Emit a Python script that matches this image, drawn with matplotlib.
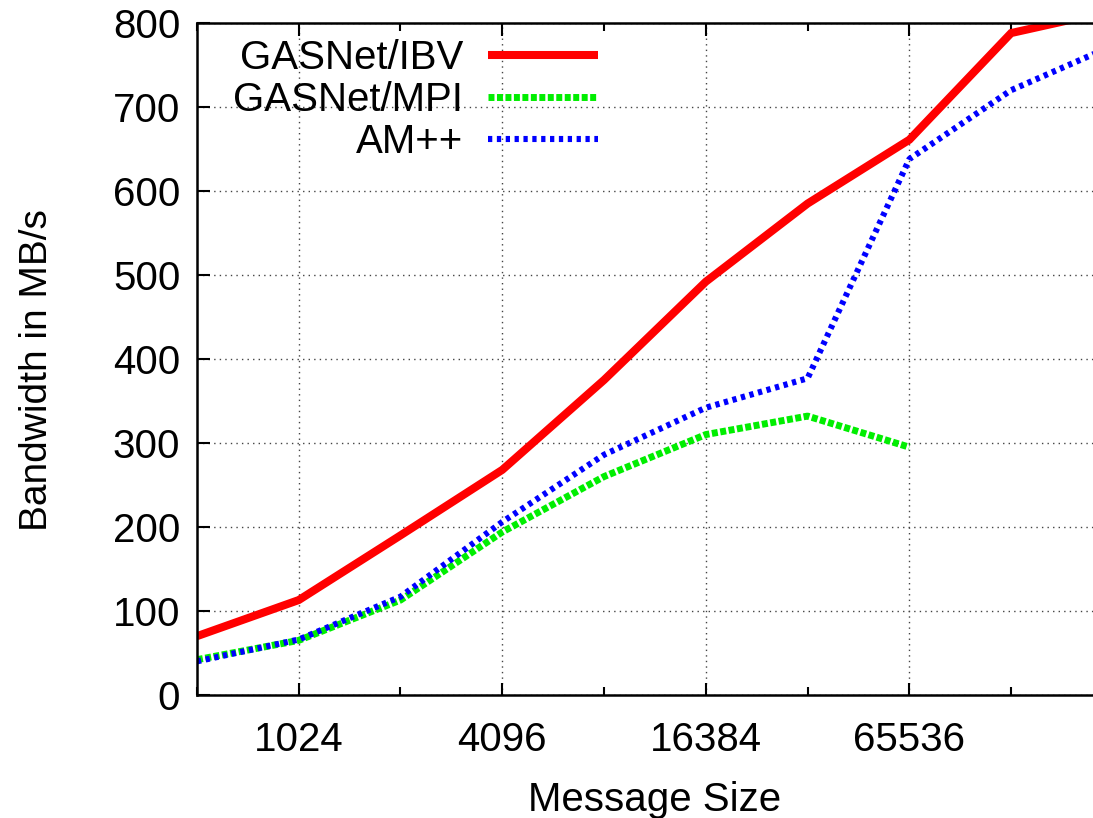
"""Bandwidth vs message size, gnuplot-style line chart."""

import matplotlib

matplotlib.use("Agg")
import matplotlib.pyplot as plt
from matplotlib.ticker import FixedLocator, FixedFormatter, NullFormatter

plt.rcParams["font.family"] = ["Liberation Sans", "DejaVu Sans"]

sizes = [512, 1024, 2048, 4096, 8192, 16384, 32768, 65536, 131072, 262144]
ibv = [70, 113, 190, 268, 375, 492, 585, 661, 788, 815]
mpi_sizes = sizes[:8]
mpi = [42, 65, 113, 194, 260, 310, 332, 295]
ampp = [40, 66, 117, 206, 286, 342, 377, 638, 720, 773]

major_ticks = [1024, 4096, 16384, 65536]
minor_ticks = [512, 2048, 8192, 32768, 131072]
y_ticks = list(range(0, 801, 100))

FS = 29

fig = plt.figure(figsize=(10.93, 8.18), dpi=100)
ax = fig.add_axes([0.1802, 0.1504, 0.838, 0.8215])

ax.plot(sizes, ibv, color="#ff0000", lw=5.8, solid_capstyle="butt",
        solid_joinstyle="miter", label="GASNet/IBV")
ax.plot(mpi_sizes, mpi, color="#00ee00", lw=5.0, dashes=(0.86, 0.36),
        dash_capstyle="butt", label="GASNet/MPI")
ax.plot(sizes, ampp, color="#0000ff", lw=4.4, dashes=(0.7, 0.75),
        dash_capstyle="butt", label="AM++")

ax.set_xscale("log", base=2)
ax.set_xlim(512, 262144)
ax.set_ylim(0, 800)
ax.xaxis.set_major_locator(FixedLocator(major_ticks))
ax.xaxis.set_major_formatter(FixedFormatter([str(t) for t in major_ticks]))
ax.xaxis.set_minor_locator(FixedLocator(minor_ticks))
ax.xaxis.set_minor_formatter(NullFormatter())
ax.yaxis.set_major_locator(FixedLocator(y_ticks))

ax.tick_params(which="both", direction="in", top=True, right=True,
               labelsize=FS, width=1.5)
ax.tick_params(axis="x", pad=19)
ax.tick_params(axis="y", pad=12)
ax.tick_params(which="major", length=9)
ax.tick_params(which="minor", length=6)
for spine in ax.spines.values():
    spine.set_linewidth(1.8)

ax.grid(which="major", linestyle=(0, (1, 3)), color="#444444", lw=1.0)

ax.set_xlabel("Message Size", fontsize=FS)
ax.set_ylabel("Bandwidth in MB/s", fontsize=28)
ax.xaxis.set_label_coords(0.5, -0.128)
ax.yaxis.set_label_coords(-0.155, 0.484)

leg = ax.legend(loc="upper left", bbox_to_anchor=(0.022, 1.0), frameon=False,
                markerfirst=False, fontsize=FS, handlelength=2.73,
                labelspacing=0.1, handletextpad=0.62, borderaxespad=0.0)
for text in leg.get_texts():
    text.set_ha("right")

fig.savefig("out.png", dpi=100)
